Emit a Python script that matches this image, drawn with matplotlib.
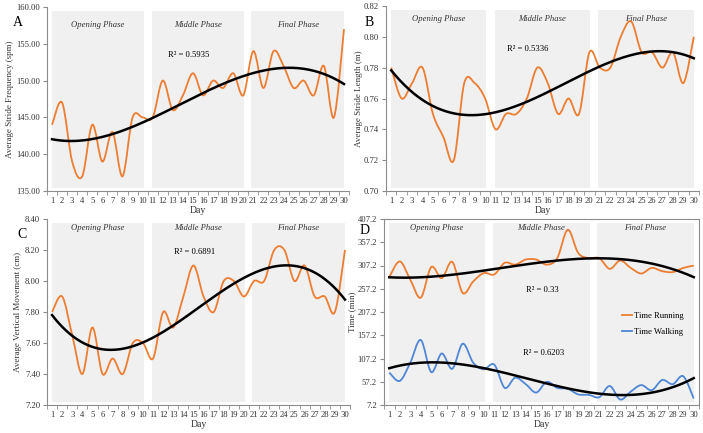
import numpy as np
import matplotlib
matplotlib.use('Agg')
import matplotlib.pyplot as plt
from matplotlib.path import Path
from matplotlib.patches import PathPatch
from matplotlib.lines import Line2D

plt.rcParams['font.family'] = ['Liberation Serif', 'DejaVu Serif']

days = np.arange(1, 31)

stride_freq = [144, 147, 139, 137, 144, 139, 143, 137, 145, 145,
               145, 150, 146, 148, 151, 148, 150, 149, 151, 148,
               154, 149, 154, 152, 149, 150, 148, 152, 145, 157]
stride_len = [0.78, 0.76, 0.77, 0.78, 0.75, 0.735, 0.72, 0.77, 0.77, 0.76,
              0.74, 0.75, 0.75, 0.76, 0.78, 0.77, 0.75, 0.76, 0.75, 0.79,
              0.78, 0.78, 0.80, 0.81, 0.79, 0.79, 0.78, 0.79, 0.77, 0.80]
vert_move = [7.80, 7.90, 7.65, 7.40, 7.70, 7.40, 7.50, 7.40, 7.60, 7.60,
             7.50, 7.80, 7.70, 7.90, 8.10, 7.90, 7.80, 8.00, 8.00, 7.90,
             8.00, 8.00, 8.20, 8.20, 8.00, 8.10, 7.90, 7.90, 7.80, 8.20]
time_running = [282, 316, 277, 238, 304, 280, 315, 248, 273, 291,
                288, 313, 309, 320, 320, 309, 323, 384, 334, 323,
                323, 300, 318, 302, 290, 302, 295, 293, 302, 307]
time_walking = [77, 59, 98, 147, 78, 118, 85, 139, 98, 84,
                94, 44, 66, 52, 34, 57, 44, 42, 30, 29,
                24, 48, 19, 36, 50, 39, 61, 52, 69, 21]

phases = ['Opening Phase', 'Middle Phase', 'Final Phase']
phase_spans = [(0.97, 10.1), (10.9, 20.1), (20.8, 30.0)]

ORANGE = '#ED7D31'
BLUE = '#4F86D6'
GRAY_BOX = '#F0F0F0'
SPINE = '#8C8C8C'
TXT = '#333333'
FS = 6.2


def smooth_line(ax, x, y, color):
    # Excel-style smoothed line: Catmull-Rom -> cubic bezier path
    x = np.asarray(x, float)
    y = np.asarray(y, float)
    pts = np.column_stack([x, y])
    n = len(pts)
    verts = [pts[0]]
    codes = [Path.MOVETO]
    for i in range(n - 1):
        p0 = pts[max(i - 1, 0)]
        p1 = pts[i]
        p2 = pts[i + 1]
        p3 = pts[min(i + 2, n - 1)]
        c1 = p1 + (p2 - p0) / 6.0
        c2 = p2 - (p3 - p1) / 6.0
        verts += [c1, c2, p2]
        codes += [Path.CURVE4] * 3
    ax.add_patch(PathPatch(Path(verts, codes), facecolor='none',
                           edgecolor=color, lw=1.3, zorder=3))


def trend(ax, x, y):
    coef = np.polyfit(x, y, 3)
    xs = np.linspace(1, 30, 200)
    ax.plot(xs, np.polyval(coef, xs), color='black', lw=1.8, zorder=4)


def setup(ax, ylim, yticks, fmt, ylabel, phase_y, label_x, frame=False):
    ax.set_xlim(0.6, 30.3)
    ax.set_ylim(*ylim)
    for (a, b), name in zip(phase_spans, phases):
        ax.axvspan(a, b, ymin=0.015, ymax=0.98, color=GRAY_BOX, lw=0, zorder=0)
        ax.text((a + b) / 2, phase_y, name, ha='center', va='center',
                style='italic', fontsize=FS, color=TXT)
    ax.set_xticks(days)
    ax.set_xticklabels([str(d) for d in days], fontsize=FS, color=TXT)
    ax.set_xticks(np.arange(0.5, 31, 1), minor=True)
    ax.tick_params(axis='x', which='major', length=0, pad=4)
    ax.tick_params(axis='x', which='minor', length=3, color=SPINE)
    ax.set_yticks(yticks)
    ax.set_yticklabels([fmt % v for v in yticks], fontsize=FS, color=TXT)
    ax.tick_params(axis='y', length=3, color=SPINE, pad=2)
    ax.set_xlabel('Day', fontsize=7, labelpad=1, color=TXT)
    ax.set_ylabel(ylabel, fontsize=6.5, color=TXT)
    ax.yaxis.set_label_coords(label_x, 0.5)
    for s in ['top', 'right']:
        ax.spines[s].set_visible(frame)
    for s in ax.spines.values():
        s.set_color(SPINE)
        s.set_linewidth(0.8)


fig = plt.figure(figsize=(7.03, 4.33), dpi=100)
W, H = 703, 433


def add_axes(l, t, r, b):
    return fig.add_axes([l / W, 1 - b / H, (r - l) / W, (b - t) / H])


axA = add_axes(47, 7, 349, 191)
axB = add_axes(386, 6, 699, 191)
axC = add_axes(47, 219, 350, 405)
axD = add_axes(384, 219, 699, 405)

# A
setup(axA, (135, 160), np.arange(135, 160.1, 5), '%.2f',
      'Average Stride Frequency (spm)', 157.6, -0.109)
smooth_line(axA, days, stride_freq, ORANGE)
trend(axA, days, stride_freq)
axA.text(14.6, 153.5, 'R² = 0.5935', ha='center', va='center', fontsize=FS)

# B
setup(axB, (0.70, 0.82), np.arange(0.70, 0.8201, 0.02), '%.2f',
      'Average Stride Length (m)', 0.8115, -0.073)
smooth_line(axB, days, stride_len, ORANGE)
trend(axB, days, stride_len)
axB.text(14.1, 0.792, 'R² = 0.5336', ha='center', va='center', fontsize=FS)

# C
setup(axC, (7.20, 8.40), np.arange(7.20, 8.401, 0.20), '%.2f',
      'Average Vertical Movement (cm)', 8.34, -0.083)
smooth_line(axC, days, vert_move, ORANGE)
trend(axC, days, vert_move)
axC.text(15.1, 8.19, 'R² = 0.6891', ha='center', va='center', fontsize=FS)

# D
setup(axD, (7.2, 407.2), np.arange(7.2, 407.3, 50), '%.1f',
      'Time (min)', 388, -0.088, frame=True)
smooth_line(axD, days, time_running, ORANGE)
smooth_line(axD, days, time_walking, BLUE)
trend(axD, days, time_running)
trend(axD, days, time_walking)
axD.text(15.6, 255.5, 'R² = 0.33', ha='center', va='center', fontsize=FS)
axD.text(15.7, 119.5, 'R² = 0.6203', ha='center', va='center', fontsize=FS)
handles = [Line2D([], [], color=ORANGE, lw=1.3), Line2D([], [], color=BLUE, lw=1.3)]
axD.legend(handles, ['Time Running', 'Time Walking'], loc='center left',
           bbox_to_anchor=(0.745, 0.437), frameon=False, fontsize=FS,
           handlelength=1.2, handletextpad=0.2, labelspacing=0.95,
           borderaxespad=0)

for lab, x, y in [('A', 18, 23), ('B', 369, 22), ('C', 22, 234), ('D', 365, 231)]:
    fig.text(x / W, 1 - y / H, lab, fontsize=10, ha='center', va='center')

fig.savefig('out.png', dpi=100)
